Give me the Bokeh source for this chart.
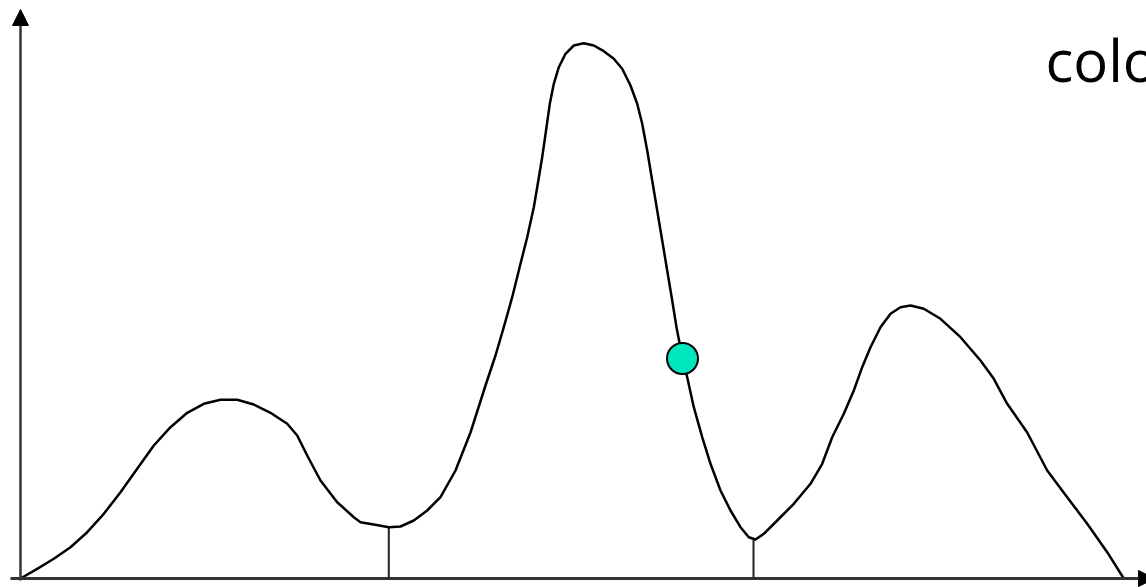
from bokeh.plotting import figure
from bokeh.models import Range1d, Arrow, NormalHead
from bokeh.core.properties import value
from bokeh.embed import file_html
from bokeh.resources import INLINE

# curve samples
curve_x = [0, 16.7, 33.3, 50, 66.7, 83.3, 100, 116.7, 133.3, 150, 166.7, 183.3, 200, 216.7,
           233.3, 250, 266.7, 276.7, 286.7, 300, 316.7, 333.3, 340, 353.3, 368.3, 380, 393.3,
           406.7, 420, 435, 450, 465, 475, 483.3, 491.7, 500, 506.7, 513.3, 517.3, 521.7, 526,
           529.3, 533.3, 538.3, 545, 553.3, 563.3, 573.3, 583.3, 593.3, 601.7, 610, 616.7, 621.7,
           626.7, 631.7, 636.7, 641.7, 646.7, 651.7, 656, 662, 666.7, 673.3, 681.7, 690, 700,
           710, 720, 728.3, 735, 743.3, 756.7, 773.3, 790, 801.7, 811.7, 823.3, 833.3, 841.7,
           850, 860, 870, 880, 890, 903.3, 920, 940, 960, 973.3, 986.7, 1006.7, 1026.7, 1046.7,
           1066.7, 1086.7, 1103.3]
curve_y = [0, 9.7, 19.7, 31.3, 46.3, 64.7, 86.3, 109.7, 133, 151.3, 165.7, 174.7, 178.7, 178.7,
           174, 165.7, 154.7, 143, 123, 98, 76.3, 61.3, 56.3, 54, 51.3, 52, 58,
           68, 81.3, 108, 146, 193, 223, 251.3, 281.3, 314.7, 341.3, 371.3, 394.7, 421.3, 451.3,
           474.7, 494.7, 511.3, 524.7, 533, 535.3, 533, 527.3, 519.7, 509.7, 493, 474.7, 454.7,
           428, 398, 368, 338, 308, 278, 251.3, 220, 201.3, 171.3, 141.3, 114.7, 88,
           68, 51.3, 41.3, 39, 44.7, 58, 74.7, 94.7, 114.7, 141.3, 164.7, 188, 211.3,
           231.3, 251.3, 264.7, 271.3, 273, 269.7, 259.7, 241.3, 218, 199.7, 174.7, 146, 108,
           81.3, 54.7, 26.3, 0]

# valley markers
valley_x = [368.3, 733]
valley_y = [51.3, 39]

# highlighted point
point_x = [662]
point_y = [220]

label_text = ["color"]
label_x = [1025]
label_y = [519]

p = figure(width=1146, height=587, x_range=Range1d(-20, 1126), y_range=Range1d(-9, 578),
           output_backend="svg", toolbar_location=None, min_border=0,
           x_axis_type=None, y_axis_type=None)
p.xgrid.visible = False
p.ygrid.visible = False
p.outline_line_color = None
p.background_fill_color = "white"
p.border_fill_color = "white"

# axes with arrows
p.add_layout(Arrow(end=NormalHead(size=16, fill_color="black", line_color="black"),
                   x_start=0, y_start=-2, x_end=0, y_end=569,
                   line_color="#333333", line_width=2.5))
p.add_layout(Arrow(end=NormalHead(size=16, fill_color="black", line_color="black"),
                   x_start=-10, y_start=0, x_end=1134, y_end=0,
                   line_color="#333333", line_width=3))

p.segment(x0=valley_x, y0=[0, 0], x1=valley_x, y1=valley_y, line_color="#222222", line_width=2)

p.line(curve_x, curve_y, line_color="black", line_width=2.5, line_join="round")

p.scatter(point_x, point_y, size=31, fill_color="#00E6BE", line_color="black", line_width=2)

p.text(x=label_x, y=label_y, text=label_text, text_font=value("Open Sans"),
       text_font_size="58px", text_color="black", text_baseline="alphabetic", text_align="left")

open("out.html", "w").write(file_html(p, INLINE))
